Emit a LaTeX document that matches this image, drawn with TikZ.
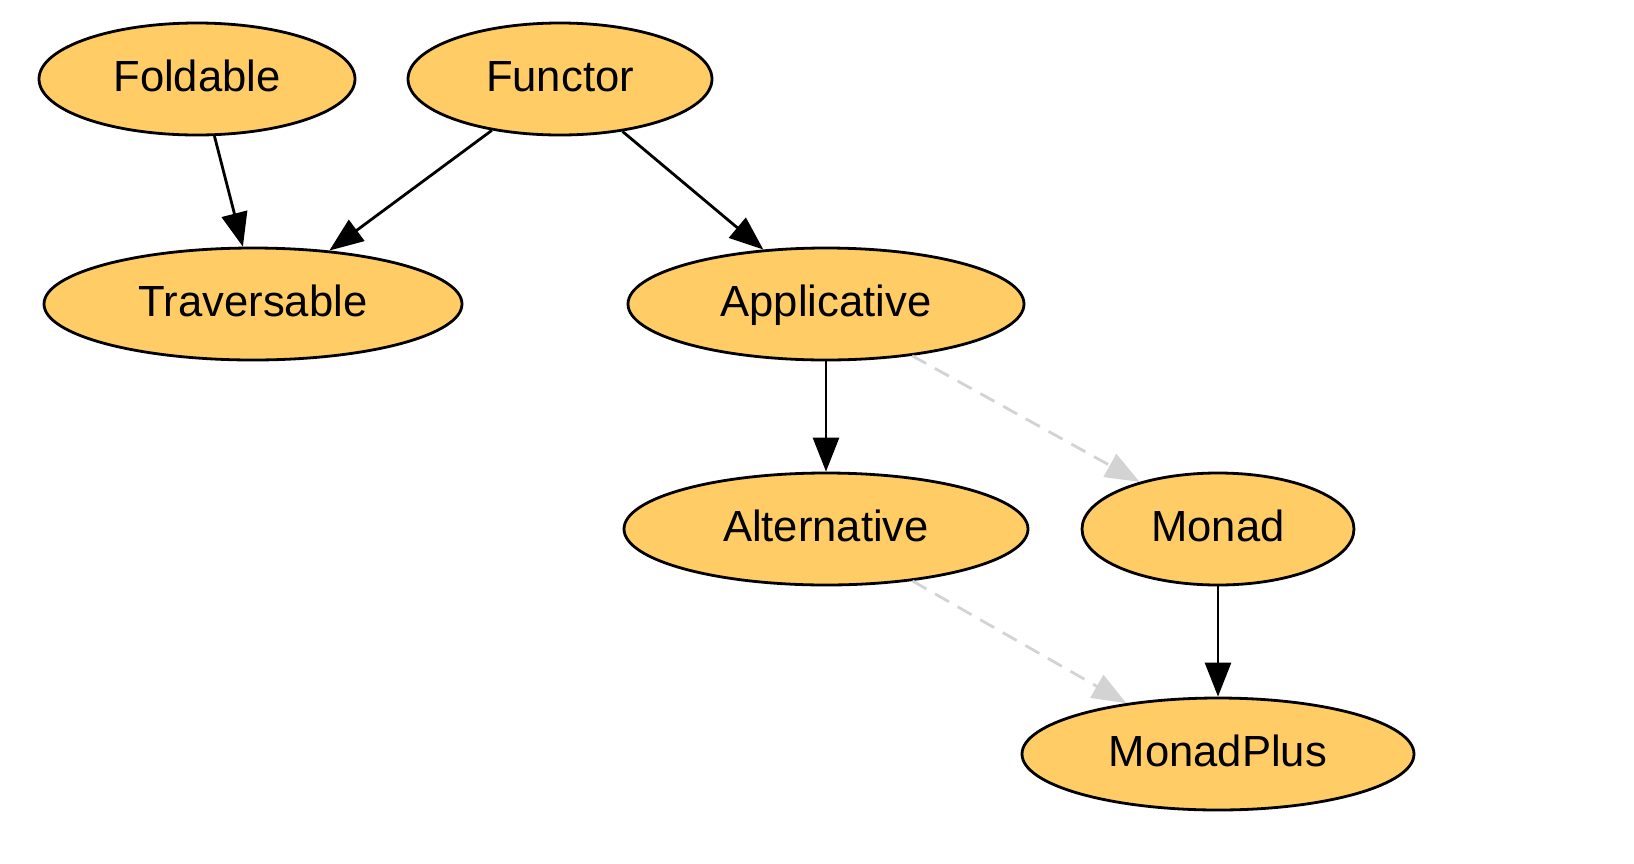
\documentclass[tikz,border=0pt]{standalone}
\usepackage{fontspec}
\setmainfont{Liberation Sans}
\usetikzlibrary{arrows.meta,shapes.geometric}
\definecolor{nodefill}{HTML}{FFCC66}
\definecolor{dashgray}{RGB}{211,211,211}
\tikzset{
  cls/.style={ellipse, draw=black, line width=1.4pt, fill=nodefill, inner sep=0pt,
    minimum height=56pt, text height=16pt, text depth=4pt,
    font=\fontsize{21.8}{26}\selectfont},
  solidedge/.style={draw=black, line width=1.4pt, -{Triangle[length=17pt,width=13pt]}},
  grayedge/.style={draw=dashgray, line width=1.4pt, dash pattern=on 8pt off 5pt,
    -{Triangle[length=17pt,width=13pt,fill=dashgray]}}
}
\begin{document}
\begin{tikzpicture}[x=0.5pt,y=-0.5pt]
\useasboundingbox (0,0) rectangle (1634,863);
\node[cls, minimum width=158pt] (fold) at (197,79) {Foldable};
\node[cls, minimum width=152pt] (func) at (560,79) {Functor};
\node[cls, minimum width=209pt] (trav) at (253,304) {Traversable};
\node[cls, minimum width=198pt] (appl) at (826,304) {Applicative};
\node[cls, minimum width=202pt] (alt) at (826,529) {Alternative};
\node[cls, minimum width=136pt] (monad) at (1218,529) {Monad};
\node[cls, minimum width=196pt] (mplus) at (1218,754) {MonadPlus};
\draw[solidedge] (fold.-73) -- (trav.100);
\draw[solidedge] (func.-143) -- (trav.35);
\draw[solidedge] (func.-40) -- (appl.139);
\draw[solidedge] (appl.south) -- (alt.north);
\draw[grayedge] (appl.-31) -- (monad.149);
\draw[grayedge] (alt.-31) -- (mplus.151);
\draw[solidedge] (monad.south) -- (mplus.north);
\end{tikzpicture}
\end{document}
